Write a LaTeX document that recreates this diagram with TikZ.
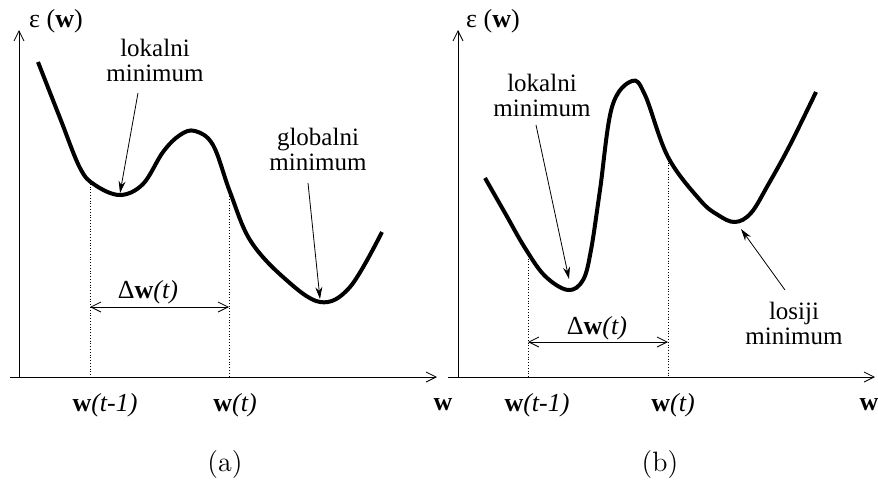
\documentclass[tikz,border=0pt]{standalone}
\usepackage{fontspec}
\newfontfamily\tms{Liberation Serif}
\usetikzlibrary{arrows.meta,positioning}
\tikzset{
    axisline/.style={thin, -{Straight Barb[length=5pt,width=5pt]}},
    curve/.style={line width=2pt, line join=round, smooth, tension=0.6},
    guide/.style={densely dotted, thin},
    pointer/.style={thin, -{Stealth[length=6pt,width=3.5pt]}},
    spanline/.style={thin, {Straight Barb[length=5pt,width=5pt]}-{Straight Barb[length=5pt,width=5pt]}},
    lbl/.style={font=\tms\fontsize{12.5}{12.5}\selectfont, align=center, inner sep=0pt},
    wlbl/.style={font=\tms\fontsize{13}{13}\selectfont, inner sep=0pt},
    panelcap/.style={font=\fontsize{14}{16}\selectfont, inner sep=0pt}
}
\newcommand{\wb}{\textbf{w}}
\begin{document}
\begin{tikzpicture}[x=0.5pt, y=-0.5pt]
\useasboundingbox (0,0) rectangle (878,488);

% (a)
\coordinate (oa) at (19,377);
\draw[axisline] (oa) -- (19,30) coordinate (ya);
\draw[axisline] (10,377) -- (437,377) coordinate (xa);
\node[wlbl] (epsa) at (56,21) {ε (\wb)};
\draw[curve] plot coordinates {
    (38,62) (60,118) (80,168) (95,185) (120,195) (143,184)
    (163,152) (180,135) (195,131) (213,145) (230,192) (250,240)
    (283,277) (320,302) (350,287) (382,232)};
\coordinate (la) at (90,181);
\coordinate (ra) at (229,188);
\coordinate (lminA) at (120,193);
\coordinate (gminA) at (320,299);
\draw[guide] (la) -- (la |- oa) coordinate (la0);
\draw[guide] (ra) -- (ra |- oa) coordinate (ra0);
\coordinate (da1) at (90,307);
\coordinate (da2) at (229,307);
\draw[spanline] (da1) -- (da2);
\node[wlbl] (dwa) at (148,292) {Δ\wb\textit{(t)}};
\node[lbl] (loka) at (155,60) {lokalni\\minimum};
\draw[pointer] (138,93) -- (lminA);
\node[lbl] (glob) at (318,149) {globalni\\minimum};
\draw[pointer] (308,183) -- (gminA);
\node[wlbl] (wt1a) at (105,405) {\wb\textit{(t-1)}};
\node[wlbl] (wta) at (235,405) {\wb\textit{(t)}};
\node[wlbl] (wa) at (443,405) {\wb};
\node[panelcap] (capa) at (225,465) {(a)};

% (b)
\coordinate (ob) at (458,377);
\draw[axisline] (ob) -- (458,30) coordinate (yb);
\draw[axisline] (448,377) -- (875,377) coordinate (xb);
\node[wlbl] (epsb) at (493,21) {ε (\wb)};
\draw[curve] plot coordinates {
    (485,178) (505,213) (525,248) (545,276) (568,290) (583,280)
    (591,250) (600,190) (612,107) (632,81) (645,95)
    (668,157) (700,200) (718,215) (735,222) (751,213) (768,185) (790,145) (816,92)};
\coordinate (lb) at (528,253);
\coordinate (rb) at (668,157);
\coordinate (lminB) at (569,279);
\coordinate (wminB) at (741,229);
\draw[guide] (lb) -- (lb |- ob) coordinate (lb0);
\draw[guide] (rb) -- (rb |- ob) coordinate (rb0);
\coordinate (db1) at (528,342);
\coordinate (db2) at (668,342);
\draw[spanline] (db1) -- (db2);
\node[wlbl] (dwb) at (597,328) {Δ\wb\textit{(t)}};
\node[lbl] (lokb) at (542,95) {lokalni\\minimum};
\draw[pointer] (536,125) -- (lminB);
\node[lbl] (losi) at (794,323) {losiji\\minimum};
\draw[pointer] (785,290) -- (wminB);
\node[wlbl] (wt1b) at (537,405) {\wb\textit{(t-1)}};
\node[wlbl] (wtb) at (673,405) {\wb\textit{(t)}};
\node[wlbl] (wb) at (869,405) {\wb};
\node[panelcap] (capb) at (660,465) {(b)};
\end{tikzpicture}
\end{document}
